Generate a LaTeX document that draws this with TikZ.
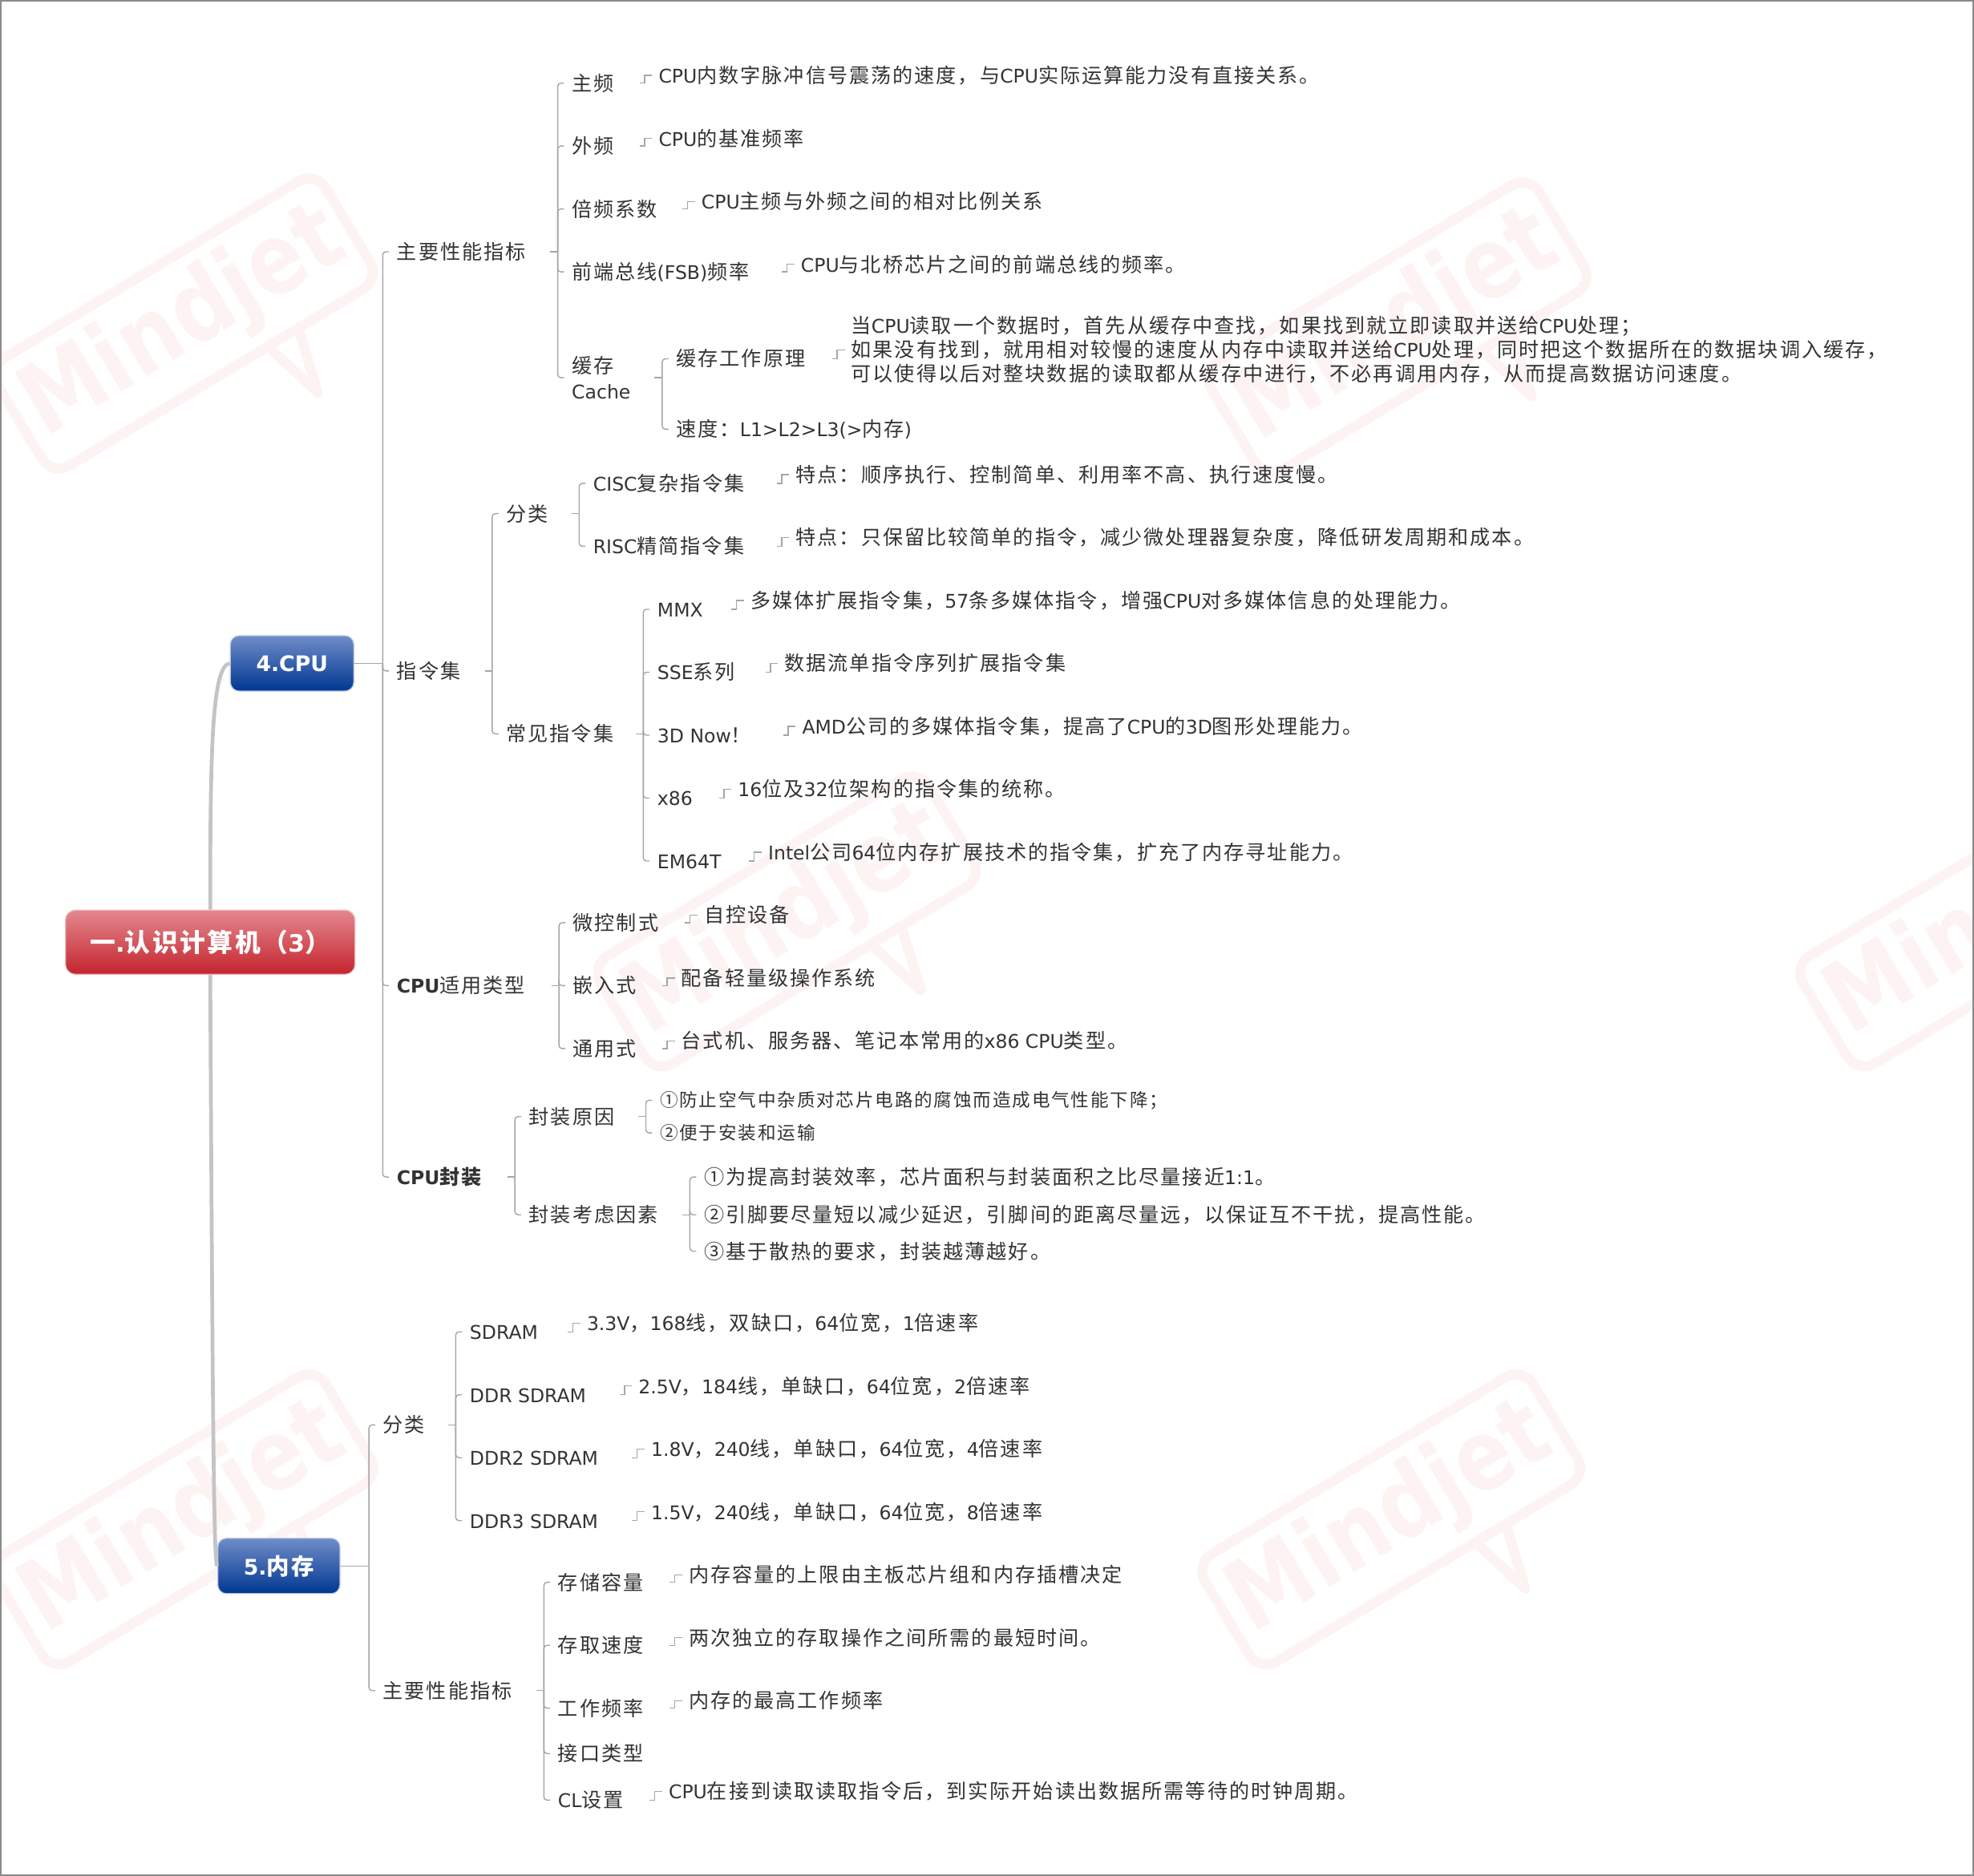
\documentclass[tikz,border=0pt]{standalone}
\usepackage{fontspec}
\setmainfont{DejaVu Sans}
\newfontfamily\cjk[Scale=1.0667,LetterSpace=8]{Noto Sans CJK SC}
\XeTeXinterchartokenstate=1
\newXeTeXintercharclass\cjkcls
\newcount\cjkcnt
\def\setcls#1#2#3{\cjkcnt=#1\relax\loop\XeTeXcharclass\cjkcnt=#3\relax\advance\cjkcnt by 1\relax\ifnum\cjkcnt<#2\repeat}
\setcls{"0020}{"007F}{0}
\setcls{"4E00}{"A000}{\cjkcls}
\setcls{"3000}{"3040}{\cjkcls}
\setcls{"FF00}{"FFF0}{\cjkcls}
\setcls{"2460}{"2500}{\cjkcls}
\XeTeXinterchartoks 0 \cjkcls = {\cjk}
\XeTeXinterchartoks 4095 \cjkcls = {\cjk}
\XeTeXinterchartoks \cjkcls 0 = {\rmfamily}
\XeTeXinterchartoks \cjkcls 4095 = {\rmfamily}

\definecolor{wmc}{RGB}{254,243,243}
\definecolor{txtc}{HTML}{333333}
\definecolor{lnc}{HTML}{A6A6A6}
\definecolor{trc}{HTML}{C4C4C4}
\definecolor{rtop}{RGB}{228,136,142}
\definecolor{rmid}{RGB}{200,40,50}
\definecolor{rbot}{RGB}{196,36,46}
\definecolor{btop}{RGB}{112,140,200}
\definecolor{bmid}{RGB}{12,60,150}
\definecolor{bbot}{RGB}{0,55,145}
\definecolor{frame}{HTML}{8A8A8A}

\newcommand\kids[2]{\foreach \c in {#2}{\draw[ln,rounded corners=2.5pt] ([xshift=-11pt]\c.west |- #1.east) |- ([xshift=-6pt]\c.west);}}
\newcommand\stub[2]{\draw[ln] ([xshift=-17pt]#2.west |- #1.east) -- ([xshift=-11pt]#2.west |- #1.east);}
\newcommand\nlink[2]{\draw[ln] ([xshift=-15pt]#2.west |- #1.east) -- ([xshift=-11pt]#2.west |- #1.east) |- ([xshift=-5pt]#2.west);}
\newcommand\wmark[2]{\begin{scope}[shift={(#1,#2)},rotate=31]
\draw[wml,rounded corners=16pt] (-152,-50) rectangle (152,50);
\draw[wml,line join=round] (48,50) -- (63,102) -- (76,50);
\end{scope}
\node[wmt] at (#1,#2) {Mindjet};}

\begin{document}
\begin{tikzpicture}[x=1pt,y=-1pt,
  base/.style={anchor=west,inner sep=0pt,text height=13.5pt,text depth=1.5pt,text=txtc,font=\fontsize{15}{19}\selectfont},
  smallt/.style={base,font=\fontsize{13.5}{17}\selectfont,text height=12pt},
  multi/.style={anchor=west,inner sep=0pt,text=txtc,align=left,font=\fontsize{15}{19}\selectfont},
  ln/.style={draw=lnc,line width=0.9pt},
  trunk/.style={draw=trc,line width=3pt},
  wml/.style={draw=wmc,line width=8pt},
  wmt/.style={text=wmc,rotate=31,xscale=0.85,inner sep=0pt,font=\fontsize{78}{78}\selectfont\bfseries},
  redbox/.style={rounded corners=8pt,top color=rtop,middle color=rmid,bottom color=rbot,draw=rtop!60!white,line width=0.8pt,minimum width=230pt,minimum height=51pt,inner sep=0pt,text=white,font=\fontsize{19}{19}\selectfont\bfseries},
  bluebox/.style={rounded corners=7pt,top color=btop,middle color=bmid,bottom color=bbot,draw=btop!50!white,line width=0.8pt,minimum height=44pt,inner sep=0pt,text=white,font=\fontsize{17}{17}\selectfont\bfseries},
]
\useasboundingbox (0,0) rectangle (1568,1490);
% watermarks
\begin{scope}
\clip (0,0) rectangle (1568,1490);
\wmark{146}{257}
\wmark{1110}{260}
\wmark{625}{732}
\wmark{1580}{732}
\wmark{146}{1207}
\wmark{1105}{1207}
\end{scope}
\draw[frame,line width=1pt] (0.5,0.5) rectangle (1567.5,1489.5);

% central and main boxes
\node[redbox] (root) at (167,748.5) {一.认识计算机（3）};
\node[bluebox,minimum width=98pt] (cpu) at (232,527) {4.CPU};
\node[bluebox,minimum width=97pt] (mem) at (221.5,1244) {5.内存};
\draw[trunk] (root.north) .. controls (167,600) and (168,528) .. (cpu.west);
\draw[trunk] (root.south) .. controls (169,1150) and (170,1244) .. (mem.west);

% CPU level 2
\node[base] (a1) at (315,200) {主要性能指标};
\node[base] (a2) at (315,533) {指令集};
\node[base] (a3) at (315,783) {{\bfseries CPU}适用类型};
\node[base] (a4) at (315,935) {\bfseries CPU封装};
\draw[ln] (cpu.east) -- ([xshift=-11pt]a1.west |- cpu.east);
\kids{cpu}{a1,a2,a3,a4}

% main performance
\node[base] (b1) at (454,66) {主频};
\node[base] (b2) at (454,116) {外频};
\node[base] (b3) at (454,166) {倍频系数};
\node[base] (b4) at (454,216) {前端总线(FSB)频率};
\node[multi,font=\fontsize{15}{20}\selectfont] (b5) at (454,300) {缓存\\Cache};
\stub{a1}{b1}\kids{a1}{b1,b2,b3,b4,b5}
\node[base] (n1) at (523,60) {CPU内数字脉冲信号震荡的速度，与CPU实际运算能力没有直接关系。};
\node[base] (n2) at (523,110) {CPU的基准频率};
\node[base] (n3) at (557,160) {CPU主频与外频之间的相对比例关系};
\node[base] (n4) at (636,210) {CPU与北桥芯片之间的前端总线的频率。};
\nlink{b1}{n1}\nlink{b2}{n2}\nlink{b3}{n3}\nlink{b4}{n4}
\node[base] (c1) at (537,285) {缓存工作原理};
\node[base] (c2) at (537,341) {速度：L1>L2>L3(>内存)};
\stub{b5}{c1}\kids{b5}{c1,c2}
\node[multi] (n5) at (676,278) {当CPU读取一个数据时，首先从缓存中查找，如果找到就立即读取并送给CPU处理；\\如果没有找到，就用相对较慢的速度从内存中读取并送给CPU处理，同时把这个数据所在的数据块调入缓存，\\可以使得以后对整块数据的读取都从缓存中进行，不必再调用内存，从而提高数据访问速度。};
\nlink{c1}{n5}

% instruction sets
\node[base] (d1) at (402,408) {分类};
\node[base] (d2) at (402,583) {常见指令集};
\stub{a2}{d1}\kids{a2}{d1,d2}
\node[base] (e1) at (471,384) {CISC复杂指令集};
\node[base] (e2) at (471,434) {RISC精简指令集};
\stub{d1}{e1}\kids{d1}{e1,e2}
\node[base] (n6) at (632,377) {特点：顺序执行、控制简单、利用率不高、执行速度慢。};
\node[base] (n7) at (632,427) {特点：只保留比较简单的指令，减少微处理器复杂度，降低研发周期和成本。};
\nlink{e1}{n6}\nlink{e2}{n7}
\node[base] (f1) at (522,484) {MMX};
\node[base] (f2) at (522,534) {SSE系列};
\node[base] (f3) at (522,584) {3D Now！};
\node[base] (f4) at (522,634) {x86};
\node[base] (f5) at (522,684) {EM64T};
\stub{d2}{f1}\kids{d2}{f1,f2,f3,f4,f5}
\node[base] (n8) at (596,477) {多媒体扩展指令集，57条多媒体指令，增强CPU对多媒体信息的处理能力。};
\node[base] (n9) at (623,527) {数据流单指令序列扩展指令集};
\node[base] (n10) at (637,577) {AMD公司的多媒体指令集，提高了CPU的3D图形处理能力。};
\node[base] (n11) at (586,627) {16位及32位架构的指令集的统称。};
\node[base] (n12) at (610,677) {Intel公司64位内存扩展技术的指令集，扩充了内存寻址能力。};
\nlink{f1}{n8}\nlink{f2}{n9}\nlink{f3}{n10}\nlink{f4}{n11}\nlink{f5}{n12}

% CPU types
\node[base] (g1) at (455,733) {微控制式};
\node[base] (g2) at (455,783) {嵌入式};
\node[base] (g3) at (455,833) {通用式};
\stub{a3}{g1}\kids{a3}{g1,g2,g3}
\node[base] (n13) at (559,727) {自控设备};
\node[base] (n14) at (541,777) {配备轻量级操作系统};
\node[base] (n15) at (541,827) {台式机、服务器、笔记本常用的x86 CPU类型。};
\nlink{g1}{n13}\nlink{g2}{n14}\nlink{g3}{n15}

% packaging
\node[base] (h1) at (420,887) {封装原因};
\node[base] (h2) at (420,965) {封装考虑因素};
\stub{a4}{h1}\kids{a4}{h1,h2}
\node[smallt] (i1) at (524,874) {①防止空气中杂质对芯片电路的腐蚀而造成电气性能下降；};
\node[smallt] (i2) at (524,900) {②便于安装和运输};
\stub{h1}{i1}\kids{h1}{i1,i2}
\node[base] (j1) at (559,935) {①为提高封装效率，芯片面积与封装面积之比尽量接近1:1。};
\node[base] (j2) at (559,965) {②引脚要尽量短以减少延迟，引脚间的距离尽量远，以保证互不干扰，提高性能。};
\node[base] (j3) at (559,994) {③基于散热的要求，封装越薄越好。};
\stub{h2}{j1}\kids{h2}{j1,j2,j3}

% memory
\node[base] (k1) at (304,1132) {分类};
\node[base] (k2) at (304,1343) {主要性能指标};
\draw[ln] (mem.east) -- ([xshift=-11pt]k1.west |- mem.east);
\kids{mem}{k1,k2}
\node[base] (l1) at (373,1058) {SDRAM};
\node[base] (l2) at (373,1108) {DDR SDRAM};
\node[base] (l3) at (373,1158) {DDR2 SDRAM};
\node[base] (l4) at (373,1208) {DDR3 SDRAM};
\stub{k1}{l1}\kids{k1}{l1,l2,l3,l4}
\node[base] (m1) at (466,1051) {3.3V，168线，双缺口，64位宽，1倍速率};
\node[base] (m2) at (507,1101) {2.5V，184线，单缺口，64位宽，2倍速率};
\node[base] (m3) at (517,1151) {1.8V，240线，单缺口，64位宽，4倍速率};
\node[base] (m4) at (517,1201) {1.5V，240线，单缺口，64位宽，8倍速率};
\nlink{l1}{m1}\nlink{l2}{m2}\nlink{l3}{m3}\nlink{l4}{m4}
\node[base] (p1) at (443,1257) {存储容量};
\node[base] (p2) at (443,1307) {存取速度};
\node[base] (p3) at (443,1357) {工作频率};
\node[base] (p4) at (443,1393) {接口类型};
\node[base] (p5) at (443,1430) {CL设置};
\stub{k2}{p1}\kids{k2}{p1,p2,p3,p4,p5}
\node[base] (q1) at (547,1251) {内存容量的上限由主板芯片组和内存插槽决定};
\node[base] (q2) at (547,1301) {两次独立的存取操作之间所需的最短时间。};
\node[base] (q3) at (547,1351) {内存的最高工作频率};
\node[base] (q5) at (531,1423) {CPU在接到读取读取指令后，到实际开始读出数据所需等待的时钟周期。};
\nlink{p1}{q1}\nlink{p2}{q2}\nlink{p3}{q3}\nlink{p5}{q5}
\end{tikzpicture}
\end{document}
